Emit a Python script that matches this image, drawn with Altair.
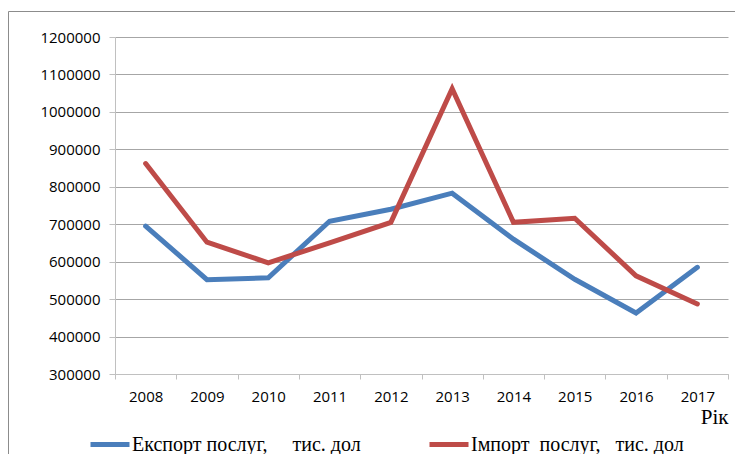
import altair as alt
import pandas as pd

years = ["2008", "2009", "2010", "2011", "2012", "2013", "2014", "2015", "2016", "2017"]
export_vals = [695000, 552000, 557000, 708000, 740000, 783000, 660000, 553000, 463000, 585000]
import_vals = [862000, 652000, 597000, 650000, 705000, 1062000, 705000, 716000, 562000, 487000]
series_names = [
    "Експорт послуг,\u00a0\u00a0\u00a0\u00a0 тис. дол",
    "Імпорт\u00a0 послуг,\u00a0\u00a0 тис. дол",
]
colors = ["#4a7ebb", "#be4b48"]
y_ticks = [300000, 400000, 500000, 600000, 700000, 800000, 900000, 1000000, 1100000, 1200000]

rows = []
for name, vals in zip(series_names, [export_vals, import_vals]):
    for yr, v in zip(years, vals):
        rows.append({"year": yr, "value": v, "series": name})
df = pd.DataFrame(rows)

lines = alt.Chart(df).mark_line(strokeWidth=5, strokeCap="round", strokeJoin="miter").encode(
    x=alt.X(
        "year:O",
        bandPosition=0.5,
        scale=alt.Scale(type="band", domain=years, paddingInner=0, paddingOuter=0),
        axis=alt.Axis(
            title="Рік",
            tickBand="extent",
            labelAngle=0,
            grid=False,
            domainColor="#c0c0c0",
            tickColor="#c0c0c0",
            tickSize=5,
            labelPadding=10,
            titleFont="Liberation Serif",
            titleFontSize=21,
            titleFontWeight="normal",
            titleColor="#000",
            titleX=613,
            titleY=49,
            titleAlign="right",
            titleBaseline="alphabetic",
        ),
    ),
    y=alt.Y(
        "value:Q",
        scale=alt.Scale(domain=[300000, 1200000], nice=False, zero=False),
        axis=alt.Axis(
            values=y_ticks,
            format="d",
            title=None,
            grid=True,
            gridColor="#a6a6a6",
            domainColor="#c0c0c0",
            tickColor="#c0c0c0",
            tickSize=6,
            labelPadding=9,
        ),
    ),
    color=alt.Color(
        "series:N",
        scale=alt.Scale(domain=series_names, range=colors),
        legend=alt.Legend(
            title=None,
            orient="none",
            legendX=-27,
            legendY=385.5,
            direction="horizontal",
            symbolType="stroke",
            symbolSize=1521,
            symbolStrokeWidth=5,
            labelFont="Liberation Serif",
            labelFontSize=20,
            labelColor="#000",
            labelOffset=0,
            labelLimit=400,
            columnPadding=58,
            padding=0,
        ),
    ),
)

frame = alt.Chart(alt.Data(values=[{}])).mark_rect(
    fillOpacity=0, stroke="#8c8c8c", strokeWidth=1
).encode(
    x=alt.value(-106.5), x2=alt.value(900), y=alt.value(-25.5), y2=alt.value(800)
)

chart = alt.layer(frame, lines).properties(
    width=613,
    height=337,
    autosize="none",
    padding={"left": 107, "top": 29, "right": 7, "bottom": 80},
).configure_view(stroke=None).configure_axis(
    labelFont="Open Sans", labelFontSize=15, labelColor="#000"
)

chart.save("out.html", embed_options={"renderer": "svg", "actions": False})
